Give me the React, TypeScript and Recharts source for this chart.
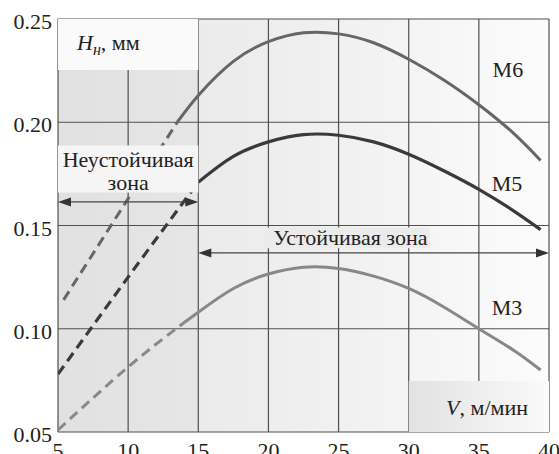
import React from 'react';
import {
  LineChart, Line, XAxis, YAxis, CartesianGrid,
  ReferenceArea, ReferenceLine, ReferenceDot,
} from 'recharts';

// V, м/мин  ->  H_н, мм
const xTicks = [5, 10, 15, 20, 25, 30, 35, 40];
const yTicks = [0.05, 0.1, 0.15, 0.2, 0.25];

const m6Dashed = [
  { v: 5.4, h: 0.114 }, { v: 10, h: 0.163 }, { v: 13.5, h: 0.2 },
];
const m6Solid = [
  { v: 13.5, h: 0.2 }, { v: 15, h: 0.213 }, { v: 17.5, h: 0.2295 }, { v: 20, h: 0.239 },
  { v: 22.5, h: 0.2433 }, { v: 25, h: 0.2428 }, { v: 27.5, h: 0.2385 }, { v: 30, h: 0.2305 },
  { v: 32.5, h: 0.2205 }, { v: 35, h: 0.2085 }, { v: 37.5, h: 0.1945 }, { v: 39.4, h: 0.1815 },
];
const m5Dashed = [
  { v: 5, h: 0.078 }, { v: 10, h: 0.125 }, { v: 15, h: 0.171 },
];
const m5Solid = [
  { v: 15, h: 0.171 }, { v: 17.5, h: 0.1835 }, { v: 20, h: 0.1905 }, { v: 22.5, h: 0.194 },
  { v: 25, h: 0.1937 }, { v: 27.5, h: 0.1905 }, { v: 30, h: 0.1845 }, { v: 32.5, h: 0.1765 },
  { v: 35, h: 0.1675 }, { v: 37.5, h: 0.157 }, { v: 39.4, h: 0.148 },
];
const m3Dashed = [
  { v: 5, h: 0.051 }, { v: 10, h: 0.0815 }, { v: 14, h: 0.103 },
];
const m3Solid = [
  { v: 14, h: 0.103 }, { v: 15, h: 0.108 }, { v: 17.5, h: 0.1195 }, { v: 20, h: 0.1265 },
  { v: 22.5, h: 0.1298 }, { v: 25, h: 0.1292 }, { v: 27.5, h: 0.1255 }, { v: 30, h: 0.1195 },
  { v: 32.5, h: 0.1105 }, { v: 35, h: 0.1 }, { v: 37.5, h: 0.0895 }, { v: 39.4, h: 0.08 },
];

const FONT = 'Liberation Serif, Times New Roman, serif';
const FS = 22;
const txt = { fontFamily: FONT, fontSize: FS };

const XTick = (p: any) => (
  <text x={p.x} y={p.y + 26} textAnchor="middle" style={txt} fill="#222">
    {p.payload.value}
  </text>
);

const YTick = (p: any) => (
  <text x={p.x} y={p.y + 10} textAnchor="end" style={txt} fill="#222">
    {p.payload.value.toFixed(2)}
  </text>
);

const arrow = (p: any) => {
  const { x1, y1, x2 } = p;
  const L = 13, W = 4.5;
  return (
    <g>
      <line x1={x1 + 4} y1={y1} x2={x2 - 4} y2={y1} stroke="#444" strokeWidth={1.3} />
      <polygon points={`${x1},${y1} ${x1 + L},${y1 - W} ${x1 + L},${y1 + W}`} fill="#333" />
      <polygon points={`${x2},${y1} ${x2 - L},${y1 - W} ${x2 - L},${y1 + W}`} fill="#333" />
    </g>
  );
};

const hLabel = (p: any) => {
  const vb = p.viewBox;
  return (
    <text x={vb.x + 19} y={vb.y + 31} style={txt} fill="#222">
      <tspan fontStyle="italic">H</tspan>
      <tspan fontStyle="italic" style={{ fontSize: 16 }} dy={5}>н</tspan>
      <tspan dy={-5}>, мм</tspan>
    </text>
  );
};

const unstableLabel = (p: any) => {
  const vb = p.viewBox;
  const cx = vb.x + vb.width / 2;
  return (
    <text style={txt} fill="#222" textAnchor="middle">
      <tspan x={cx} y={vb.y + 22}>Неустойчивая</tspan>
      <tspan x={cx} y={vb.y + 45}>зона</tspan>
    </text>
  );
};

const stableLabel = (p: any) => {
  const vb = p.viewBox;
  return (
    <text x={vb.x + vb.width / 2 + 3} y={vb.y + 17} textAnchor="middle" style={txt} fill="#222">
      Устойчивая зона
    </text>
  );
};

const vLabel = (p: any) => {
  const vb = p.viewBox;
  return (
    <text x={vb.x + vb.width - 21} y={vb.y + 34} textAnchor="end" style={txt} fill="#222">
      <tspan fontStyle="italic">V</tspan>, м/мин
    </text>
  );
};

const curveLabel = (name: string) => (p: any) => {
  const vb = p.viewBox;
  return (
    <text x={vb.x + vb.width / 2} y={vb.y + vb.height / 2 + 7} textAnchor="middle" style={txt} fill="#222">
      {name}
    </text>
  );
};

export default function App() {
  return (
    <div style={{ position: 'absolute', left: 0, top: 0, width: 559, height: 454, background: '#fff' }}>
      <svg width={0} height={0} style={{ position: 'absolute' }}>
        <defs>
          <linearGradient id="plotBg" x1="0" y1="0" x2="1" y2="0">
            <stop offset="0" stopColor="#e1e1e1" />
            <stop offset="0.2857" stopColor="#e6e6e6" />
            <stop offset="0.2857" stopColor="#ebebeb" />
            <stop offset="0.6" stopColor="#f1f1f1" />
            <stop offset="1" stopColor="#fcfcfc" />
          </linearGradient>
          <linearGradient id="vBox" x1="0" y1="0" x2="1" y2="0">
            <stop offset="0" stopColor="#e2e2e2" />
            <stop offset="1" stopColor="#fafafa" />
          </linearGradient>
        </defs>
      </svg>
      <LineChart width={559} height={454} margin={{ top: 19, right: 10, left: 0, bottom: 0 }}>
        <CartesianGrid stroke="#505050" strokeWidth={1.2} fill="url(#plotBg)" fillOpacity={1} />
        <XAxis
          type="number" dataKey="v" domain={[5, 40]} ticks={xTicks} height={22}
          axisLine={false} tickLine={false} tickSize={0} tickMargin={0} tick={<XTick />}
          interval={0} allowDataOverflow
        />
        <YAxis
          type="number" dataKey="h" domain={[0.05, 0.25]} ticks={yTicks} width={58}
          axisLine={false} tickLine={false} tickSize={0} tickMargin={6} tick={<YTick />}
          interval={0} allowDataOverflow
        />
        <Line data={m6Dashed} dataKey="h" type="natural" stroke="#666" strokeWidth={3} strokeDasharray="10 6" dot={false} isAnimationActive={false} />
        <Line data={m6Solid} dataKey="h" type="natural" stroke="#666" strokeWidth={3} dot={false} isAnimationActive={false} />
        <Line data={m5Dashed} dataKey="h" type="natural" stroke="#3a3a3a" strokeWidth={3.2} strokeDasharray="10 6" dot={false} isAnimationActive={false} />
        <Line data={m5Solid} dataKey="h" type="natural" stroke="#3a3a3a" strokeWidth={3.2} dot={false} isAnimationActive={false} />
        <Line data={m3Dashed} dataKey="h" type="natural" stroke="#888" strokeWidth={3} strokeDasharray="10 6" dot={false} isAnimationActive={false} />
        <Line data={m3Solid} dataKey="h" type="natural" stroke="#888" strokeWidth={3} dot={false} isAnimationActive={false} />

        <ReferenceArea x1={5} x2={15} y1={0.2253} y2={0.25} fill="#fafafa" fillOpacity={1} stroke="none" zIndex={450} label={hLabel} />
        <ReferenceArea x1={5} x2={15} y1={0.166} y2={0.1888} fill="#f5f5f5" fillOpacity={1} stroke="none" zIndex={450} label={unstableLabel} />
        <ReferenceArea x1={19.75} x2={31.5} y1={0.139} y2={0.149} fill="#ebebeb" fillOpacity={1} stroke="none" zIndex={450} label={stableLabel} />
        <ReferenceArea x1={30} x2={40} y1={0.05} y2={0.0747} fill="url(#vBox)" fillOpacity={1} stroke="none" zIndex={450} label={vLabel} />

        <ReferenceLine segment={[{ x: 5, y: 0.1614 }, { x: 15, y: 0.1614 }]} shape={arrow} zIndex={460} />
        <ReferenceLine segment={[{ x: 15, y: 0.1367 }, { x: 40, y: 0.1367 }]} shape={arrow} zIndex={460} />

        <ReferenceDot x={37.07} y={0.2253} r={0} fill="none" stroke="none" label={curveLabel('M6')} />
        <ReferenceDot x={37.0} y={0.17} r={0} fill="none" stroke="none" label={curveLabel('M5')} />
        <ReferenceDot x={37.0} y={0.11} r={0} fill="none" stroke="none" label={curveLabel('M3')} />
      </LineChart>
    </div>
  );
}
